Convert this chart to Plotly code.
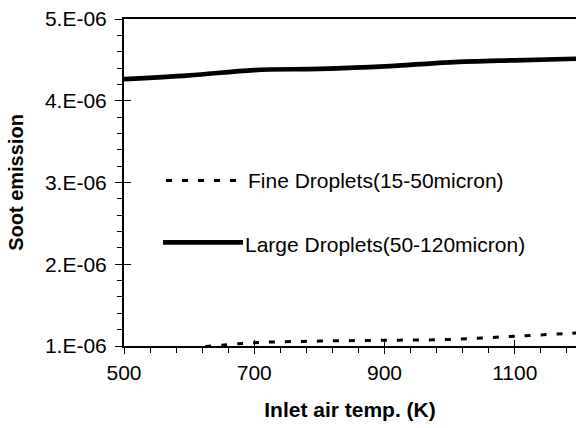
import plotly.graph_objects as go

# Data
temp_large = [500, 600, 700, 800, 900, 1000, 1100, 1200]
soot_large = [4.265e-6, 4.31e-6, 4.375e-6, 4.39e-6, 4.42e-6, 4.47e-6, 4.495e-6, 4.515e-6]
temp_fine = [600, 700, 800, 900, 1000, 1100, 1200]
soot_fine = [0.975e-6, 1.04e-6, 1.06e-6, 1.07e-6, 1.08e-6, 1.12e-6, 1.16e-6]
ytick_vals = [1e-6, 2e-6, 3e-6, 4e-6, 5e-6]
ytick_text = ["1.E-06", "2.E-06", "3.E-06", "4.E-06", "5.E-06"]
xtick_vals = [500, 700, 900, 1100]
name_fine = "Fine Droplets(15-50micron)"
name_large = "Large Droplets(50-120micron)"

FONT = "Liberation Sans, Arial, sans-serif"
W, H = 576, 428
L, R, T, B = 124, 0, 18.5, 82.3

fig = go.Figure()
fig.add_trace(go.Scatter(x=temp_fine, y=soot_fine, mode="lines", name=name_fine,
                         line=dict(color="black", width=3, dash="6px,10px", shape="spline"),
                         showlegend=False))
fig.add_trace(go.Scatter(x=temp_large, y=soot_large, mode="lines", name=name_large,
                         line=dict(color="black", width=4.7, shape="spline"),
                         showlegend=False))

xr = [500, 1194]
yr = [1e-6, 5e-6]

fig.update_layout(
    width=W, height=H,
    margin=dict(l=L, r=R, t=T, b=B, pad=0),
    paper_bgcolor="white", plot_bgcolor="white",
    font=dict(family=FONT, size=21, color="black"),
    xaxis=dict(range=xr, tickvals=xtick_vals, ticks="outside", ticklen=6, tickwidth=1,
               tickcolor="black", showline=True, linecolor="black", linewidth=2, mirror=True,
               showgrid=False, zeroline=False, ticklabelstandoff=1,
               minor=dict(dtick=40, tick0=500, ticks="outside", ticklen=5, tickcolor="black", tickwidth=1),
               title=dict(text="<b>Inlet air temp. (K)</b>", font=dict(size=21), standoff=19),
               tickfont=dict(size=21)),
    yaxis=dict(range=yr, tickvals=ytick_vals, ticktext=ytick_text, ticks="outside", ticklen=7,
               tickwidth=1, tickcolor="black", showline=True, linecolor="black", linewidth=2,
               showgrid=False, zeroline=False, ticklabelstandoff=4,
               minor=dict(dtick=0.2e-6, tick0=1e-6, ticks="outside", ticklen=5, tickcolor="black", tickwidth=1),
               title=dict(text="<b>Soot emission</b>", font=dict(size=20), standoff=16),
               tickfont=dict(size=21)),
    xaxis2=dict(range=xr, overlaying="x", tickvals=xtick_vals, ticks="inside", ticklen=6,
                tickcolor="black", showticklabels=False, showgrid=False, zeroline=False,
                showline=False),
    yaxis2=dict(range=yr, overlaying="y", tickvals=ytick_vals, ticks="inside", ticklen=7,
                tickcolor="black", showticklabels=False, showgrid=False, zeroline=False,
                showline=False),
)
# invisible trace to activate overlay axes
fig.add_trace(go.Scatter(x=[xr[0]], y=[yr[0]], xaxis="x2", yaxis="y2", mode="markers",
                         marker=dict(opacity=0), showlegend=False, hoverinfo="skip"))

# Manual legend (sample lines + labels in paper coordinates)
pw = W - L - R
ph = H - T - B
def px(xpix):
    return (xpix - L) / pw
def py(ypix):
    return (H - B - ypix) / ph

fig.add_shape(type="line", xref="paper", yref="paper", x0=px(166), x1=px(236), y0=py(180), y1=py(180),
              line=dict(color="black", width=3, dash="6px,10px"))
fig.add_shape(type="line", xref="paper", yref="paper", x0=px(163), x1=px(243), y0=py(242), y1=py(242),
              line=dict(color="black", width=4.7))
fig.add_annotation(xref="paper", yref="paper", x=px(246), y=py(180), text=name_fine,
                   showarrow=False, xanchor="left", yanchor="middle", font=dict(size=21))
fig.add_annotation(xref="paper", yref="paper", x=px(243), y=py(244), text=name_large,
                   showarrow=False, xanchor="left", yanchor="middle", font=dict(size=21))

fig.write_html("out.html")
